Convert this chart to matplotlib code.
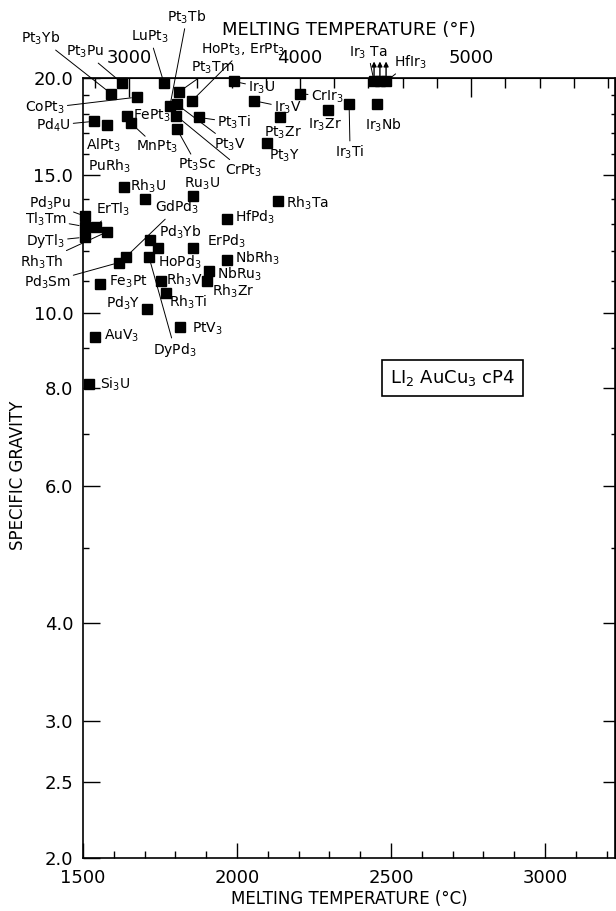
import re
import numpy as np
import matplotlib.pyplot as plt
from matplotlib.ticker import FixedLocator, NullFormatter, FormatStrFormatter

plt.rcParams['font.family'] = 'DejaVu Sans'
plt.rcParams['mathtext.default'] = 'regular'

# L1_2 (AuCu3, cP4) compounds: melting point (C) and specific gravity
names = ['Pt3Yb', 'Pt3Pu', 'LuPt3', 'Pt3Tm', 'CoPt3', 'HoPt3, ErPt3', 'Pt3Tb', 'Pt3V',
         'CrPt3', 'Pt3Sc', 'Pt3Ti', 'FePt3', 'MnPt3', 'Pd4U', 'AlPt3', 'Ir3U', 'Ir3V',
         'CrIr3', 'Pt3Zr', 'Pt3Y', 'Ir3Zr', 'Ir3Ti', 'Ir3Nb', 'Rh3U', 'PuRh3', 'Ru3U',
         'Rh3Ta', 'HfPd3', 'Pd3Pu', 'ErTl3', 'Tl3Tm', 'DyTl3', 'Rh3Th', 'Pd3Sm', 'GdPd3',
         'Pd3Yb', 'HoPd3', 'DyPd3', 'ErPd3', 'NbRh3', 'NbRu3', 'Rh3Zr', 'Fe3Pt', 'Rh3V',
         'Rh3Ti', 'Pd3Y', 'PtV3', 'AuV3', 'Si3U']
tm_c = [1591, 1627, 1763, 1812, 1675, 1854, 1782, 1805,
        1802, 1805, 1877, 1643, 1656, 1536, 1578, 1990, 2055,
        2205, 2140, 2097, 2295, 2364, 2455, 1633, 1701, 1857,
        2133, 1968, 1506, 1542, 1505, 1505, 1578, 1617, 1640,
        1718, 1744, 1714, 1857, 1968, 1909, 1903, 1555, 1753,
        1769, 1708, 1815, 1539, 1519]
sg = [19.1, 19.7, 19.7, 19.2, 18.9, 18.7, 18.4, 18.5,
      17.9, 17.2, 17.8, 17.9, 17.5, 17.6, 17.4, 19.8, 18.7,
      19.1, 17.8, 16.5, 18.2, 18.5, 18.5, 14.5, 14.0, 14.1,
      13.9, 13.2, 13.3, 12.9, 12.9, 12.5, 12.7, 11.6, 11.8,
      12.4, 12.1, 11.8, 12.1, 11.7, 11.3, 11.0, 10.9, 11.0,
      10.6, 10.1, 9.6, 9.3, 8.1]

# off the top of the scale (arrows)
top_names = ['Ir3 Ta', '', 'HfIr3']
top_tm_c = [2445, 2464, 2484]
top_sg = [19.8, 19.8, 19.8]

# label offset from its point in pixels, and whether a leader line is drawn
label_pos = {
    'Pt3Yb': (-70, 55, True), 'Pt3Pu': (-37, 31, True), 'LuPt3': (-14, 46, True),
    'Pt3Tm': (34, 24, True), 'CoPt3': (-92, -11, True), 'HoPt3, ErPt3': (51, 51, True),
    'Pt3Tb': (17, 89, True), 'Pt3V': (53, -40, True), 'CrPt3': (67, -55, True),
    'Pt3Sc': (20, -36, True), 'Pt3Ti': (35, -5, True), 'FePt3': (25, 0, False),
    'MnPt3': (26, -24, True), 'Pd4U': (-41, -4, True), 'AlPt3': (-4, -20, False),
    'Ir3U': (28, -6, True), 'Ir3V': (34, -7, True), 'CrIr3': (27, -3, True),
    'Pt3Zr': (3, -15, False), 'Pt3Y': (18, -13, False), 'Ir3Zr': (-3, -15, False),
    'Ir3Ti': (1, -48, True), 'Ir3Nb': (6, -21, False), 'Rh3U': (24, 1, False),
    'PuRh3': (-35, 33, False), 'Ru3U': (9, 13, False), 'Rh3Ta': (30, -2, False),
    'HfPd3': (28, 1, False), 'Pd3Pu': (-35, 13, True), 'ErTl3': (17, 17, True),
    'Tl3Tm': (-39, 7, True), 'DyTl3': (-39, -4, True), 'Rh3Th': (-65, -30, True),
    'Pd3Sm': (-72, -20, True), 'GdPd3': (51, 49, True), 'Pd3Yb': (30, 8, False),
    'HoPd3': (22, -14, False), 'DyPd3': (26, -93, True), 'ErPd3': (34, 7, False),
    'NbRh3': (30, 1, False), 'NbRu3': (31, -3, False), 'Rh3Zr': (26, -11, False),
    'Fe3Pt': (28, 2, False), 'Rh3V': (23, 0, False), 'Rh3Ti': (22, -9, False),
    'Pd3Y': (-24, 6, False), 'PtV3': (27, -2, False), 'AuV3': (27, 2, False),
    'Si3U': (26, 0, False),
    'Ir3 Ta': (-6, 29, True), 'HfIr3': (24, 19, True),
}


def sub(name):
    return re.sub(r'(\d)', r'$_\1$', name)


def c2f(c):
    return c * 9 / 5 + 32


def f2c(f):
    return (f - 32) * 5 / 9


fig = plt.figure(figsize=(6.16, 9.11), dpi=100)
ax = fig.add_axes([83 / 616, 1 - 858 / 911, 532 / 616, 780 / 911])

ax.plot(tm_c, sg, 's', color='k', ms=6.5, clip_on=False)
ax.plot(top_tm_c, top_sg, 's', color='k', ms=6.5, clip_on=False)
for t, s in zip(top_tm_c, top_sg):
    ax.annotate('', xy=(t, 21.0), xytext=(t, s), annotation_clip=False,
                arrowprops=dict(arrowstyle='-|>', color='k', lw=1, mutation_scale=7,
                                shrinkA=0, shrinkB=0))

for name, t, s in zip(names + top_names, tm_c + top_tm_c, sg + top_sg):
    if name == '':
        continue
    dx, dy, line = label_pos[name]
    arrow = dict(arrowstyle='-', color='k', lw=0.7, shrinkA=0, shrinkB=4) if line else None
    ax.annotate(sub(name), (t, s), xytext=(dx, dy), textcoords='offset pixels',
                ha='center', va='center', fontsize=10, arrowprops=arrow,
                annotation_clip=False)

ax.set_yscale('log')
ax.set_xlim(1500, 1500 + 532 / 0.308)
ax.set_ylim(2.0, 20.0)

ax.yaxis.set_major_locator(FixedLocator([2.0, 2.5, 3.0, 4.0, 6.0, 8.0, 10.0, 15.0, 20.0]))
ax.yaxis.set_major_formatter(FormatStrFormatter('%.1f'))
ax.yaxis.set_minor_locator(FixedLocator([5, 7, 9, 11, 12, 13, 14, 16, 17, 18, 19]))
ax.yaxis.set_minor_formatter(NullFormatter())
ax.xaxis.set_major_locator(FixedLocator([1500, 2000, 2500, 3000]))
ax.xaxis.set_minor_locator(FixedLocator(np.arange(1600, 3300, 100)))

ax.tick_params(axis='y', which='major', direction='in', length=12, width=1, pad=7, labelsize=13)
ax.tick_params(axis='y', which='minor', direction='in', length=4.5, width=1)
ax.tick_params(axis='x', which='major', direction='in', length=11, width=1, pad=8, labelsize=13)
ax.tick_params(axis='x', which='minor', direction='in', length=5, width=1)
for sp in ax.spines.values():
    sp.set_linewidth(1.2)

sec_y = ax.secondary_yaxis('right', functions=(lambda v: v, lambda v: v))
sec_y.yaxis.set_major_locator(FixedLocator([2.5, 3.0, 4.0, 6.0, 8.0, 10.0, 15.0]))
sec_y.yaxis.set_minor_locator(FixedLocator([5, 7, 9, 11, 12, 13, 14, 16, 17, 18, 19]))
sec_y.yaxis.set_major_formatter(NullFormatter())
sec_y.yaxis.set_minor_formatter(NullFormatter())
sec_y.tick_params(which='major', direction='in', length=9, width=1)
sec_y.tick_params(which='minor', direction='in', length=3, width=1)

sec_x = ax.secondary_xaxis('top', functions=(c2f, f2c))
sec_x.xaxis.set_major_locator(FixedLocator([3000, 4000, 5000]))
sec_x.xaxis.set_minor_locator(FixedLocator(np.arange(2800, 5900, 200)))
sec_x.tick_params(which='major', direction='in', length=14, width=1, pad=8, labelsize=13)
sec_x.tick_params(which='minor', direction='in', length=7, width=1)
sec_x.set_xlabel('MELTING TEMPERATURE (°F)', fontsize=13, labelpad=10)

ax.set_xlabel('MELTING TEMPERATURE (°C)', fontsize=12, labelpad=2)
ax.set_ylabel('SPECIFIC GRAVITY', fontsize=12)
ax.yaxis.set_label_coords(-0.105, 0.49)

ax.text(0.694, 0.615, 'LI$_2$ AuCu$_3$ cP4', transform=ax.transAxes, ha='center',
        va='center', fontsize=13,
        bbox=dict(boxstyle='square,pad=0.45', fc='white', ec='k', lw=1.2))

fig.savefig('out.png', dpi=100)
